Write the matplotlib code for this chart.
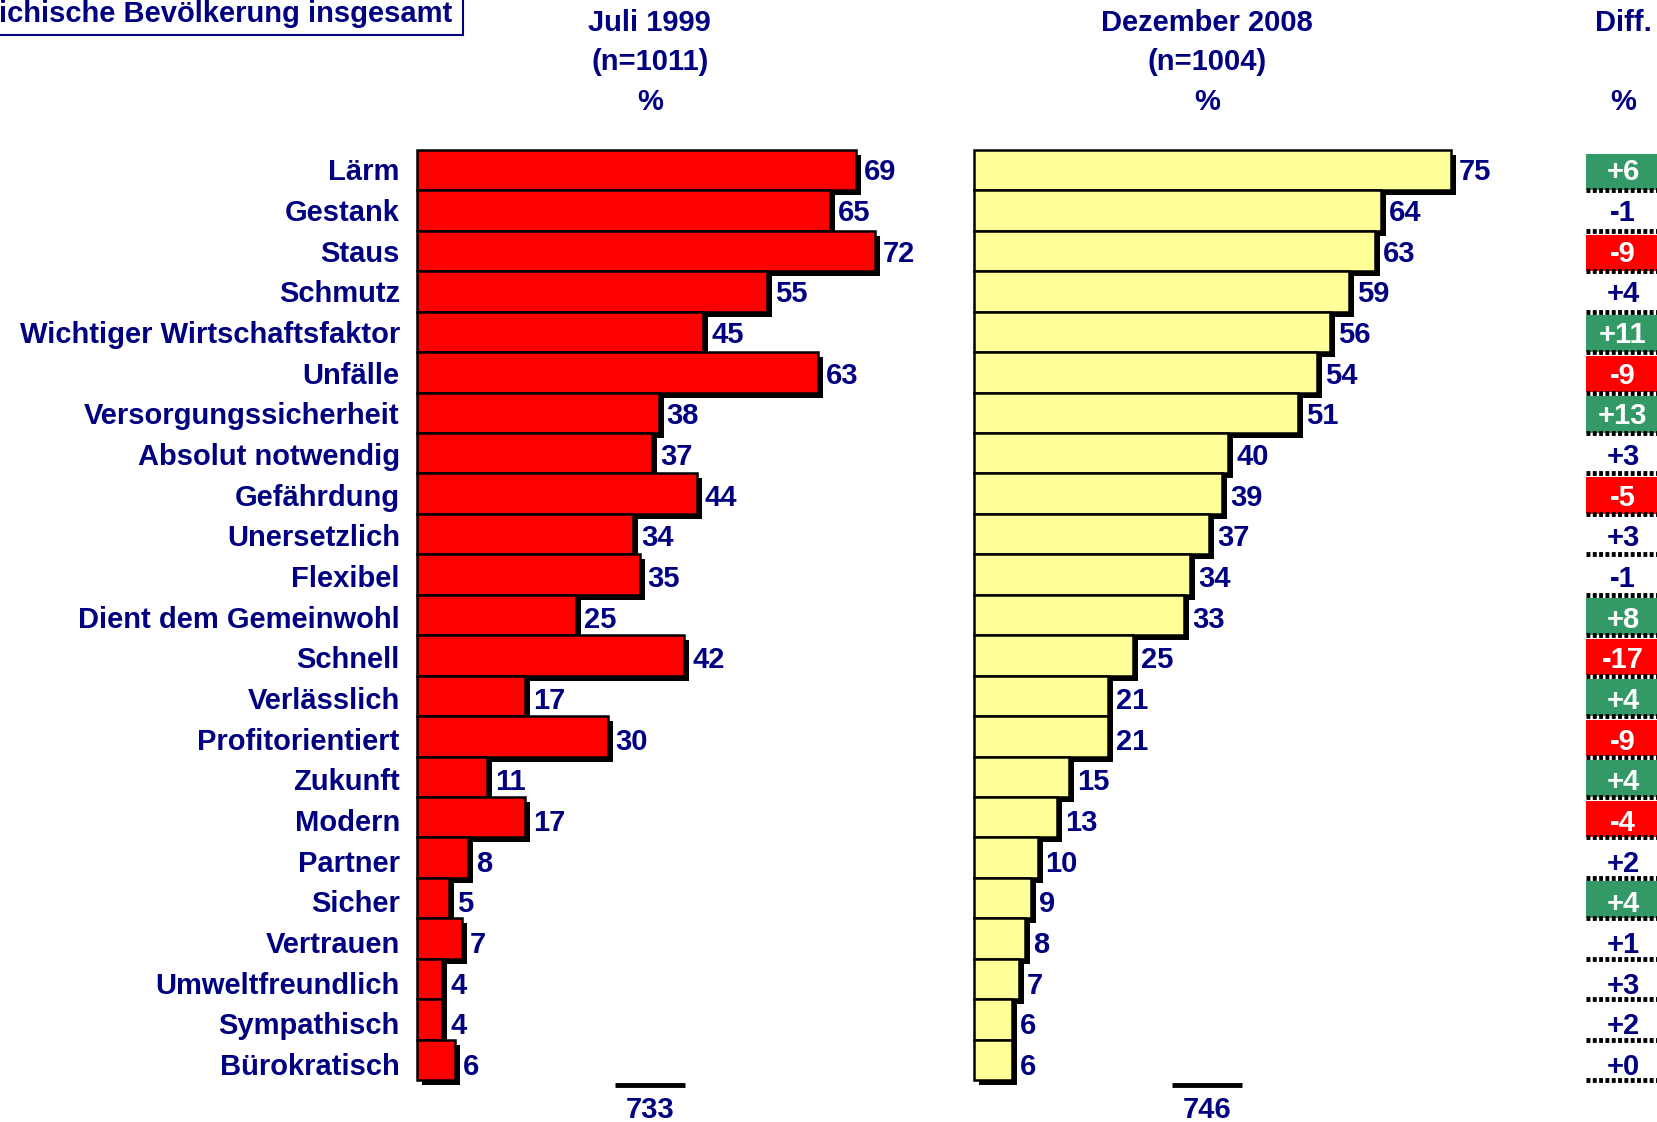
import matplotlib
matplotlib.use("Agg")
import matplotlib.pyplot as plt
from matplotlib.patches import Rectangle

plt.rcParams['font.family'] = ['Liberation Sans', 'DejaVu Sans']
plt.rcParams['font.weight'] = 'bold'

categories = ["Lärm", "Gestank", "Staus", "Schmutz", "Wichtiger Wirtschaftsfaktor",
              "Unfälle", "Versorgungssicherheit", "Absolut notwendig", "Gefährdung",
              "Unersetzlich", "Flexibel", "Dient dem Gemeinwohl", "Schnell",
              "Verlässlich", "Profitorientiert", "Zukunft", "Modern", "Partner",
              "Sicher", "Vertrauen", "Umweltfreundlich", "Sympathisch", "Bürokratisch"]
juli_1999 = [69, 65, 72, 55, 45, 63, 38, 37, 44, 34, 35, 25, 42, 17, 30, 11, 17, 8, 5, 7, 4, 4, 6]
dez_2008 = [75, 64, 63, 59, 56, 54, 51, 40, 39, 37, 34, 33, 25, 21, 21, 15, 13, 10, 9, 8, 7, 6, 6]
diff_labels = ["+6", "-1", "-9", "+4", "+11", "-9", "+13", "+3", "-5", "+3", "-1", "+8",
               "-17", "+4", "-9", "+4", "-4", "+2", "+4", "+1", "+3", "+2", "+0"]
diff_signif = [True, False, True, False, True, True, True, False, True, False, False, True,
               True, True, True, True, True, False, True, False, False, False, False]
headers = ["Juli 1999\n(n=1011)\n%", "Dezember 2008\n(n=1004)\n%"]
title_text = "ichische Bevölkerung insgesamt"

NAVY = "#000080"
RED = "#FF0000"
YELLOW = "#FFFF99"
GREEN = "#339966"

W, H = 1657, 1122
fig = plt.figure(figsize=(W / 100, H / 100), dpi=100)

top_px, bot_px = 150, 1080
ax_bottom = 1 - bot_px / H
ax_height = (bot_px - top_px) / H
px_per_unit = 6.36
xmax = 80
ax_w = xmax * px_per_unit / W

n = len(categories)
ys = list(range(n))
row_px = (bot_px - top_px) / n
FS = 21


def ty(i):
    # text sits slightly below row centre, a little more further down
    return i + (2.0 + 5.3 * i / (n - 1)) / row_px


def bar_panel(left_px, values, color, header):
    ax = fig.add_axes([left_px / W, ax_bottom, ax_w, ax_height])
    ax.set_xlim(0, xmax)
    ax.set_ylim(n - 0.5, -0.5)
    ax.axis('off')
    dx = 5 / px_per_unit
    dy = 5 / row_px
    ax.barh([y + dy for y in ys], values, left=dx, height=1.0, color='black',
            zorder=1, clip_on=False)
    ax.barh(ys, values, height=1.0, color=color, edgecolor='black', linewidth=1.8,
            zorder=2, clip_on=False)
    for y, v in zip(ys, values):
        ax.text(v + 1.25, ty(y), str(v), ha='left', va='center', color=NAVY,
                fontsize=FS, fontweight='bold', zorder=3)
    tot = sum(values)
    ax.plot([31.1, 42.1], [n - 0.5 + 5 / row_px] * 2, color='black', lw=3.5,
            clip_on=False, solid_capstyle='butt')
    ax.text(36.6, n - 0.5 + 30 / row_px, str(tot), ha='center', va='center',
            color=NAVY, fontsize=FS, fontweight='bold', clip_on=False)
    cx = (left_px + 36.6 * px_per_unit) / W
    for i, line in enumerate(header.split("\n")):
        fig.text(cx, 1 - (23 + 39.5 * i) / H, line, ha='center', va='center',
                 color=NAVY, fontsize=FS, fontweight='bold')
    return ax


ax1 = bar_panel(417, juli_1999, RED, headers[0])
ax2 = bar_panel(974, dez_2008, YELLOW, headers[1])

for y, c in zip(ys, categories):
    ax1.text(-2.7, ty(y), c, ha='right', va='center', color=NAVY, fontsize=FS,
             fontweight='bold')

# Diff column
axd = fig.add_axes([1586 / W, ax_bottom, 1 - 1586 / W, ax_height])
axd.set_xlim(0, 1)
axd.set_ylim(n - 0.5, -0.5)
axd.axis('off')
for y, lab, sig, d1, d2 in zip(ys, diff_labels, diff_signif, juli_1999, dez_2008):
    if sig:
        col = GREEN if d2 > d1 else RED
        axd.barh(y + 0.04, 1.0, left=0, height=0.9, color=col, zorder=1)
        tcol = 'white'
    else:
        tcol = NAVY
    axd.text(0.52, ty(y), lab, ha='center', va='center', color=tcol, fontsize=FS,
             fontweight='bold', zorder=3)
    axd.plot([0, 1], [y + 0.5, y + 0.5], color='black', lw=3.5,
             linestyle=(0, (0.8, 0.5)), zorder=2, clip_on=False)
fig.text(1623 / W, 1 - 23 / H, "Diff.", ha='center', va='center', color=NAVY,
         fontsize=FS, fontweight='bold')
fig.text(1623 / W, 1 - 102 / H, "%", ha='center', va='center', color=NAVY,
         fontsize=FS, fontweight='bold')

# Title box
fig.patches.append(Rectangle((-0.01, 1 - 35 / H), 463 / W + 0.01, 0.05,
                             transform=fig.transFigure, fill=False,
                             edgecolor=NAVY, linewidth=1.5))
fig.text(452 / W, 1 - 14 / H, title_text, ha='right', va='center', color=NAVY,
         fontsize=FS, fontweight='bold')

fig.savefig("out.png", dpi=100, facecolor='white')
